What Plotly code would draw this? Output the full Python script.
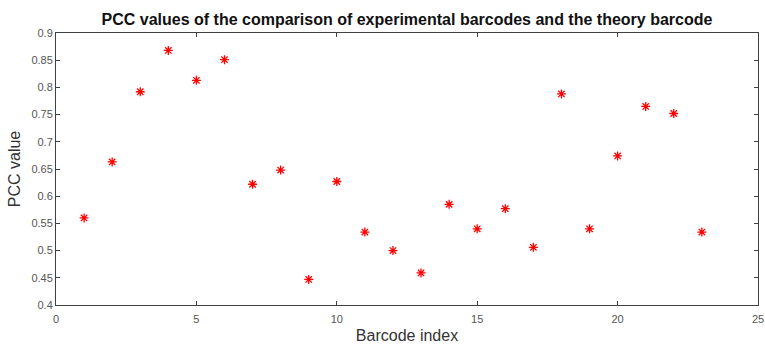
import plotly.graph_objects as go

barcode_index = list(range(1, 24))
pcc_values = [0.560, 0.663, 0.792, 0.868, 0.813, 0.851, 0.622, 0.648, 0.447, 0.627,
              0.534, 0.500, 0.459, 0.585, 0.540, 0.577, 0.506, 0.788, 0.540, 0.674,
              0.765, 0.752, 0.534]

x_ticks = [0, 5, 10, 15, 20, 25]
y_ticks = [0.4, 0.45, 0.5, 0.55, 0.6, 0.65, 0.7, 0.75, 0.8, 0.85, 0.9]

FONT = "Liberation Sans, Arial, sans-serif"

fig = go.Figure()
fig.add_trace(go.Scatter(
    x=barcode_index, y=pcc_values, mode="markers",
    marker=dict(symbol="asterisk-open", size=7.5, color="#ff0000",
                line=dict(color="#ff1010", width=1.3)),
    showlegend=False,
))

axis_common = dict(
    showgrid=False, zeroline=False, showline=True, linecolor="#404040", linewidth=1,
    mirror="ticks", ticks="inside", ticklen=4, tickcolor="#404040", tickwidth=1,
    tickfont=dict(family=FONT, size=11, color="#555555"), automargin=False,
)

fig.update_layout(
    width=765, height=344,
    margin=dict(l=56, r=7, t=33, b=39),
    paper_bgcolor="white", plot_bgcolor="white",
    title=dict(text="<b>PCC values of the comparison of experimental barcodes and the theory barcode</b>",
               x=0.532, xanchor="center", y=0.945, yanchor="middle",
               font=dict(family=FONT, size=16, color="#111111")),
    xaxis=dict(range=[0, 25], tickvals=x_ticks, ticktext=[str(v) for v in x_ticks],
               ticklabelstandoff=4,
               title=dict(text="Barcode index", standoff=7,
                          font=dict(family=FONT, size=16, color="#333333")),
               **axis_common),
    yaxis=dict(range=[0.4, 0.9], tickvals=y_ticks, ticktext=[f"{v:g}" for v in y_ticks],
               title=dict(text="PCC value", standoff=6,
                          font=dict(family=FONT, size=16, color="#333333")),
               **axis_common),
)

fig.write_html("out.html")
